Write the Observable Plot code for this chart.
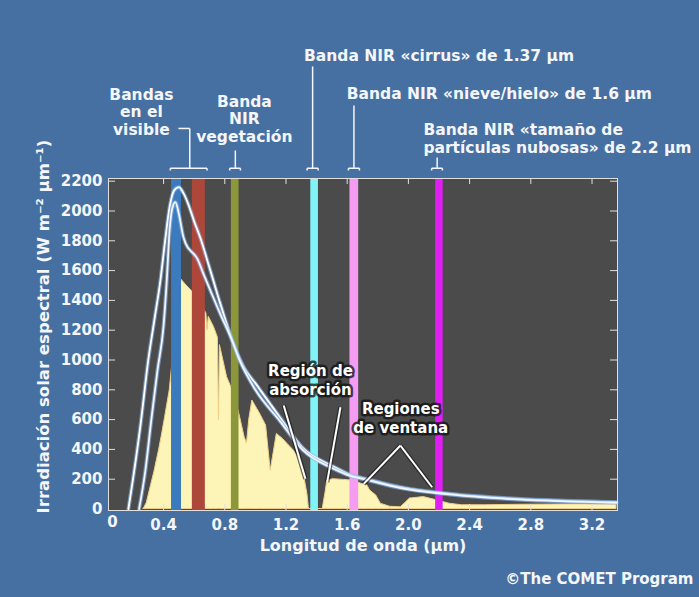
<!DOCTYPE html>
<html><head><meta charset="utf-8">
<script src="https://cdn.jsdelivr.net/npm/d3@7"></script>
<script src="https://cdn.jsdelivr.net/npm/@observablehq/plot@0.6"></script>
<style>
html,body{margin:0;padding:0;background:#4670a1;}
#chart{width:699px;height:597px;overflow:hidden;}
svg{display:block;}
</style></head><body><div id="chart"></div>
<script>
// ---- data (wavelength µm, irradiance W m-2 µm-1) ----
const outerWl  = [0.17,0.20,0.25,0.30,0.34,0.38,0.41,0.44,0.47,0.50,0.53,0.56,0.60,0.64,0.70,0.77,0.85,0.92,1.01,1.16,1.31,1.51,1.62,1.73,1.95,2.27,2.71,3.36];
const outerIrr = [0,200,570,1000,1270,1540,1800,2030,2140,2160,2120,2050,1930,1820,1620,1380,1130,960,830,616,410,285,230,200,146,102,68,46];

const innerWl  = [0.24,0.28,0.32,0.36,0.40,0.42,0.44,0.46,0.477,0.50,0.53,0.555,0.575,0.62,0.66,0.706,0.77,0.84,0.90,1.0,1.16,1.31,1.51,1.62,1.73,1.95,2.27,2.71,3.36];
const innerIrr = [0,250,600,930,1230,1520,1880,2030,2059,1980,1824,1760,1735,1680,1580,1466,1310,1150,990,800,590,395,270,222,195,140,98,64,42];

const surfWl  = [0.27,0.29,0.31,0.34,0.37,0.39,0.41,0.44,0.47,0.50,0.51,0.55,0.60,0.64,0.68,0.687,0.695,0.73,0.755,0.762,0.768,0.79,0.815,0.85,0.88,0.90,0.93,0.945,0.96,0.98,1.03,1.07,1.10,1.12,1.14,1.18,1.21,1.25,1.29,1.32,1.34,1.35,1.44,1.46,1.47,1.51,1.58,1.64,1.69,1.73,1.75,1.79,1.82,1.88,1.95,1.98,2.01,2.10,2.19,2.27,2.35,2.5,2.7,3.0,3.36];
const surfIrr = [0,40,124,250,393,500,616,795,1100,1450,1547,1500,1446,1388,1311,1200,1290,1220,1150,594,1100,1000,885,800,700,616,480,440,600,728,640,560,258,380,504,470,437,393,330,213,100,0,0,120,191,200,195,190,170,160,124,90,35,15,12,40,70,80,57,35,25,25,28,30,30];

// satellite bands (µm)
const bandNames = ["azul","rojo","NIR vegetación","cirrus","nieve/hielo","partículas"];
const bandStart = [0.452,0.588,0.843,1.362,1.618,2.178];
const bandEnd   = [0.517,0.673,0.893,1.412,1.675,2.227];
const bandColors = ["#3b7abd","#ad473a","#8b9738","#80f4f6","#f49cf2","#e01ef4"];

// axis ticks
const xTicks = [0.4,0.8,1.2,1.6,2.0,2.4,2.8,3.2];
const yTicks = [0,200,400,600,800,1000,1200,1400,1600,1800,2000,2200];

// text
const yTitle = "Irradiación solar espectral (W m⁻² µm⁻¹)";
const xTitle = "Longitud de onda (µm)";
const caption = "©The COMET Program";
const topCentered = [
  {t:"Bandas\nen el\nvisible", x:0.255, y:2668},
  {t:"Banda\nNIR\nvegetación", x:0.928, y:2621}
];
const topStart = [
  {t:"Banda NIR «cirrus» de 1.37 µm", x:1.318, y:3044},
  {t:"Banda NIR «nieve/hielo» de 1.6 µm", x:1.597, y:2789},
  {t:"Banda NIR «tamaño de\npartículas nubosas» de 2.2 µm", x:2.098, y:2487}
];
const inLabels = [
  {t:"Región de\nabsorción", x:1.36, y:869},
  {t:"Regiones\nde ventana", x:1.95, y:614}
];
// leader segments [x1,y1,x2,y2] in data units
const leaders = [
  [0.444,2287,0.684,2287],[0.444,2287,0.444,2272],[0.684,2287,0.684,2272],[0.571,2287,0.571,2554],[0.497,2554,0.571,2554],
  [0.832,2287,0.902,2287],[0.832,2287,0.832,2272],[0.902,2287,0.902,2272],[0.869,2287,0.869,2406],
  [1.338,2287,1.410,2287],[1.338,2287,1.338,2272],[1.410,2287,1.410,2272],[1.374,2287,1.374,2970],
  [1.608,2287,1.680,2287],[1.608,2287,1.608,2272],[1.680,2287,1.680,2272],[1.644,2287,1.644,2708],
  [2.152,2287,2.222,2287],[2.152,2287,2.152,2272],[2.222,2287,2.222,2272],[2.188,2287,2.188,2359]
];
const pointers = [
  [1.185,695,1.327,203],[1.556,683,1.469,180],
  [1.948,426,1.708,169],[1.948,426,2.155,146]
];

// ---- build tables ----
const zip = (w,v) => w.map((x,i)=>({x, y:v[i]}));
const outer = zip(outerWl, outerIrr);
const inner = zip(innerWl, innerIrr);
const surf = zip(surfWl, surfIrr);
const bands = bandNames.map((n,i)=>({n, x1:bandStart[i], x2:bandEnd[i], c:bandColors[i]}));
const seg = leaders.map(d=>({x1:d[0],y1:d[1],x2:d[2],y2:d[3]}));
const ptr = pointers.map(d=>({x1:d[0],y1:d[1],x2:d[2],y2:d[3]}));

const font = "DejaVu Sans";
const plot = Plot.plot({
  width: 699, height: 597,
  marginLeft: 108, marginRight: 82, marginTop: 178, marginBottom: 87,
  style: {background: "transparent", color: "#f4f6fa", fontFamily: font, fontWeight: "bold", fontSize: "15px"},
  x: {domain: [0.04, 3.36], range: [108, 616]},
  y: {domain: [0, 2200], range: [508.5, 180.7]},
  marks: [
    Plot.frame({fill: "#4b4b4b"}),
    Plot.areaY(surf, {x: "x", y: "y", fill: "#fdf4b8", stroke: "#f0cf8a", strokeWidth: 1, curve: "linear"}),
    Plot.rect(bands, {x1: "x1", x2: "x2", fill: "c"}),
    Plot.line(outer, {x: "x", y: "y", stroke: "#8ab8ee", strokeWidth: 4, strokeOpacity: 0.6, curve: "monotone-x"}),
    Plot.line(outer, {x: "x", y: "y", stroke: "#ffffff", strokeWidth: 1.8, curve: "monotone-x"}),
    Plot.line(inner, {x: "x", y: "y", stroke: "#8ab8ee", strokeWidth: 4, strokeOpacity: 0.6, curve: "monotone-x"}),
    Plot.line(inner, {x: "x", y: "y", stroke: "#f2f6ff", strokeWidth: 1.8, curve: "monotone-x"}),
    Plot.frame({stroke: "#e0e0e0", strokeWidth: 1}),
    // inward ticks
    Plot.ruleX(xTicks, {stroke: "#e0e0e0", insetTop: 326}),
    Plot.ruleX(xTicks, {stroke: "#e0e0e0", insetBottom: 326}),
    Plot.ruleY(yTicks.slice(1), {stroke: "#e0e0e0", insetRight: 502}),
    Plot.ruleY(yTicks.slice(1), {stroke: "#e0e0e0", insetLeft: 502}),
    Plot.axisX(xTicks, {tickSize: 0, tickPadding: 9, tickFormat: d => d.toFixed(1), fontSize: 15, label: null}),
    Plot.text(["0"], {x: 0.04, frameAnchor: "bottom", dx: 4, dy: 16, fontSize: 15}),
    Plot.axisY(yTicks, {tickSize: 0, tickPadding: 6, tickFormat: d => String(d), fontSize: 15, label: null}),
    Plot.text([xTitle], {frameAnchor: "bottom", dy: 40, fontSize: 16}),
    Plot.text([yTitle], {frameAnchor: "left", textAnchor: "middle", dx: -65, dy: -18, rotate: -90, fontSize: 16.5}),
    Plot.text([caption], {frameAnchor: "bottom-right", dx: 76, dy: 73, textAnchor: "end", fontSize: 15}),
    // top annotations
    Plot.link(seg, {x1: "x1", y1: "y1", x2: "x2", y2: "y2", stroke: "#f4f6fa", strokeWidth: 1.5}),
    Plot.text(topCentered, {x: "x", y: "y", text: "t", textAnchor: "middle", fontSize: 15.5, lineHeight: 1.13}),
    Plot.text(topStart, {x: "x", y: "y", text: "t", textAnchor: "start", fontSize: 15.5, lineHeight: 1.13}),
    // in-plot annotations
    Plot.link(ptr, {x1: "x1", y1: "y1", x2: "x2", y2: "y2", stroke: "#111", strokeOpacity: 0.6, strokeWidth: 4.5}),
    Plot.link(ptr, {x1: "x1", y1: "y1", x2: "x2", y2: "y2", stroke: "#ffffff", strokeWidth: 2}),
    Plot.text(inLabels, {x: "x", y: "y", text: "t", fontSize: 15, lineHeight: 1.25, fill: "#ffffff", stroke: "#111", strokeOpacity: 0.75, strokeWidth: 5, paintOrder: "stroke"})
  ]
});
document.getElementById("chart").appendChild(plot);
</script></body></html>
